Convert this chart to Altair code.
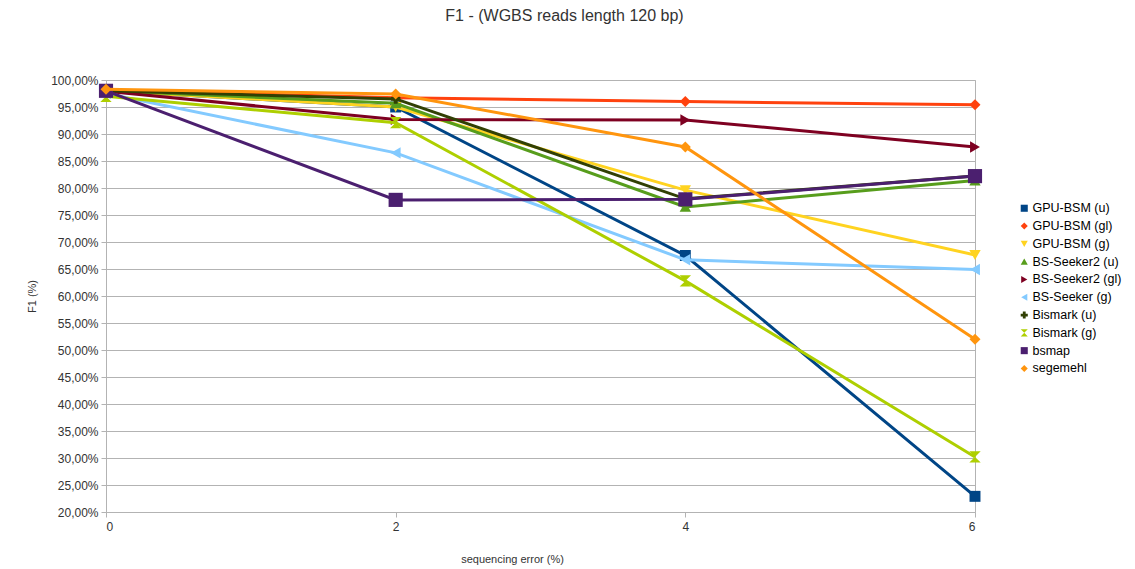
import altair as alt
import pandas as pd

x_vals = [0, 2, 4, 6]

series_names = [
    "GPU-BSM (u)", "GPU-BSM  (gl)", "GPU-BSM (g)", "BS-Seeker2 (u)", "BS-Seeker2 (gl)",
    "BS-Seeker (g)", "Bismark (u)", "Bismark (g)", "bsmap", "segemehl",
]

gpu_bsm_u = [98.0, 95.0, 67.5, 22.9]
gpu_bsm_gl = [98.1, 96.7, 96.0, 95.4]
gpu_bsm_g = [98.0, 95.0, 79.6, 67.6]
bs_seeker2_u = [98.0, 95.7, 76.5, 81.4]
bs_seeker2_gl = [97.9, 92.7, 92.6, 87.6]
bs_seeker_g = [97.5, 86.5, 66.7, 64.9]
bismark_u = [98.0, 96.5, 78.0, 82.2]
bismark_g = [97.0, 92.1, 62.8, 30.2]
bsmap = [98.0, 77.8, 77.9, 82.2]
segemehl = [98.3, 97.4, 87.6, 52.0]

all_values = [gpu_bsm_u, gpu_bsm_gl, gpu_bsm_g, bs_seeker2_u, bs_seeker2_gl,
              bs_seeker_g, bismark_u, bismark_g, bsmap, segemehl]

colors = ["#004586", "#ff420e", "#ffd320", "#579d1c", "#7e0021",
          "#83caff", "#314004", "#aecf00", "#4b1f6f", "#ff950e"]
hourglass = "M-1,-1L1,-1L0,0L1,1L-1,1L0,0Z"
shapes = ["square", "diamond", "triangle-down", "triangle-up", "triangle-right",
          "triangle-left", "cross", hourglass, "square", "diamond"]
sizes = [120, 120, 130, 130, 130, 130, 90, 130, 200, 120]

y_ticks = [20, 25, 30, 35, 40, 45, 50, 55, 60, 65, 70, 75, 80, 85, 90, 95, 100]

rows = []
for name, vals in zip(series_names, all_values):
    for xv, yv in zip(x_vals, vals):
        rows.append({"series": name, "x": xv, "y": yv})
df = pd.DataFrame(rows)

FONT = "Liberation Sans"

color_scale = alt.Scale(domain=series_names, range=colors)
shape_scale = alt.Scale(domain=series_names, range=shapes)


def make_legend():
    return alt.Legend(title=None, orient="none", legendX=912, legendY=122,
                      labelFontSize=12.5, labelColor="#000000", labelFont=FONT,
                      symbolSize=50, rowPadding=4.8, labelLimit=200, symbolStrokeWidth=0,
                      labelOffset=2)


x_enc = alt.X("x:Q", scale=alt.Scale(domain=[0, 6], nice=False),
              axis=alt.Axis(values=x_vals, title="sequencing error (%)", grid=False,
                            domain=False, tickColor="#b3b3b3", tickSize=5,
                            labelFontSize=12, labelColor="#333333", labelPadding=4,
                            titleFontSize=11, titleFontWeight="normal", titleColor="#333333",
                            titleX=406, titleY=47, titleBaseline="middle"))
y_enc = alt.Y("y:Q", scale=alt.Scale(domain=[20, 100], nice=False),
              axis=alt.Axis(values=y_ticks, title="F1 (%)", grid=True, gridColor="#b3b3b3",
                            domain=False, tickColor="#b3b3b3", tickSize=5,
                            labelExpr="replace(format(datum.value, '.2f'), '.', ',') + '%'",
                            labelFontSize=12, labelColor="#333333", labelPadding=3,
                            titleFontSize=11, titleFontWeight="normal", titleColor="#333333",
                            titleX=-74, titleY=216, titleAngle=-90, titleBaseline="middle",
                            titleAlign="center"))

layers = []
for i, name in enumerate(series_names):
    sub = df[df["series"] == name]
    base = alt.Chart(sub)
    line = base.mark_line(strokeWidth=3).encode(
        x=x_enc, y=y_enc,
        color=alt.Color("series:N", scale=color_scale, legend=make_legend()),
    )
    pts = base.mark_point(filled=True, opacity=1, size=sizes[i]).encode(
        x=x_enc, y=y_enc,
        color=alt.Color("series:N", scale=color_scale, legend=make_legend()),
        shape=alt.Shape("series:N", scale=shape_scale, legend=make_legend()),
    )
    layers += [line, pts]

chart = alt.layer(*layers).properties(
    width=869, height=432,
    padding={"left": 98, "top": 72, "right": 152, "bottom": 53},
    autosize=alt.AutoSizeParams(type="none"),
    title=alt.TitleParams("F1 - (WGBS reads length 120 bp)", fontSize=16, fontWeight="normal",
                          color="#333333", font=FONT, anchor="middle", dx=24, offset=50),
).configure(font=FONT).configure_view(stroke="#b3b3b3", strokeWidth=1)

chart.save("out.html", embed_options={"renderer": "svg", "actions": False})
